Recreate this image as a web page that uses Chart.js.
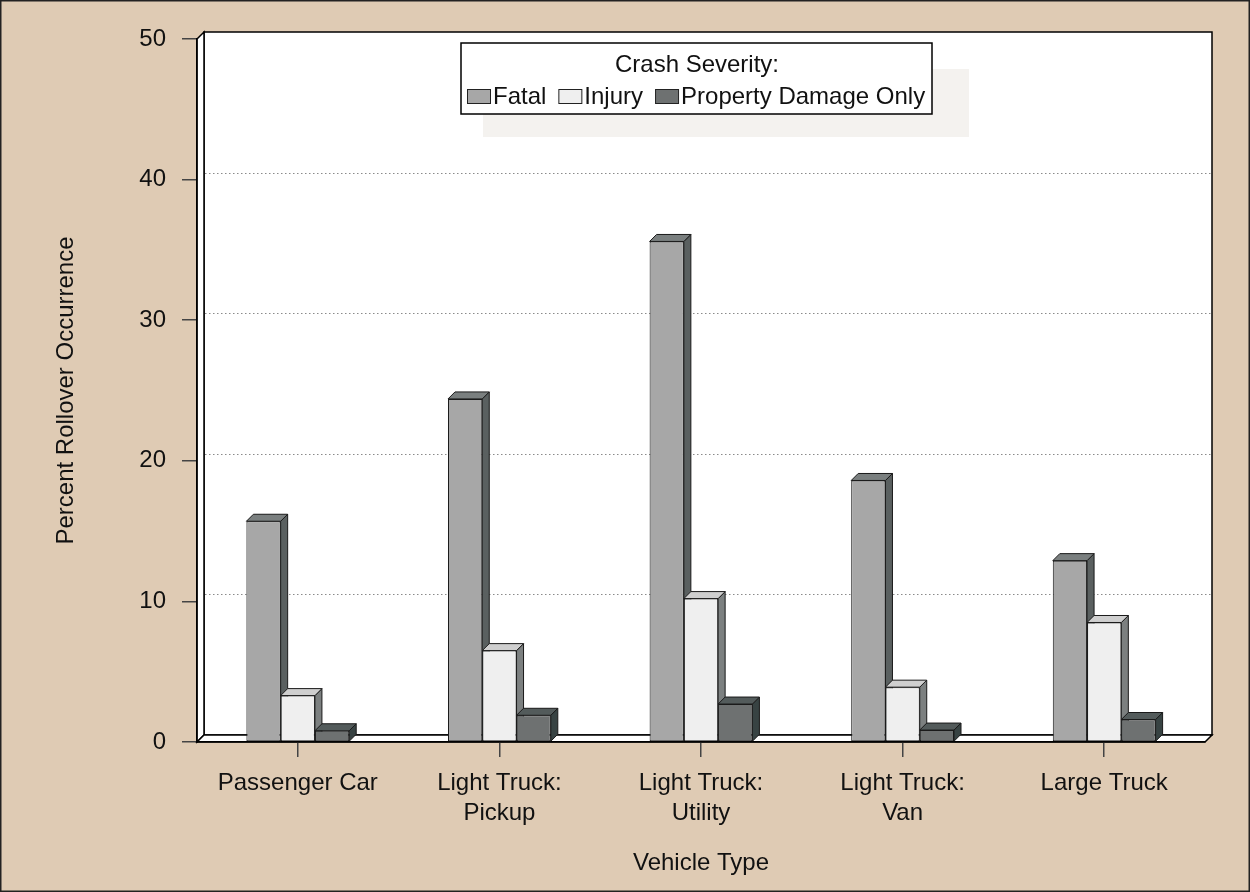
<!DOCTYPE html>
<html>
<head>
<meta charset="utf-8">
<script src="https://cdn.jsdelivr.net/npm/chart.js@4.4.1/dist/chart.umd.min.js"></script>
<style>
	html, body { margin: 0; padding: 0; background: #dfcbb4; }
	canvas { display: block; }
</style>
</head>
<body>
<canvas id="chart" width="1250" height="892"></canvas>
<script>

const categories = ['Passenger Car', ['Light Truck:', 'Pickup'], ['Light Truck:', 'Utility'], ['Light Truck:', 'Van'], 'Large Truck'];
const fatal = [15.7, 24.4, 35.6, 18.6, 12.9];
const injury = [3.3, 6.5, 10.2, 3.9, 8.5];
const propertyDamage = [0.8, 1.9, 2.7, 0.85, 1.6];
const yTicks = [0, 10, 20, 30, 40, 50];

const DEPTH = 7;
const FONT = 'Liberation Sans, Arial, sans-serif';

// front, side, top colours for each series
const shades = [
	{ front: '#a7a7a7', side: '#5a6060', top: '#7a7f7f' },
	{ front: '#efefef', side: '#7c8080', top: '#cfcfcf' },
	{ front: '#6e7171', side: '#384343', top: '#535b5b' }
];

function poly(ctx, pts, fill) {
	ctx.beginPath();
	ctx.moveTo(pts[0][0], pts[0][1]);
	for (let i = 1; i < pts.length; i++) {
		ctx.lineTo(pts[i][0], pts[i][1]);
	}
	ctx.closePath();
	ctx.fillStyle = fill;
	ctx.fill();
	ctx.stroke();
}

const boxPlugin = {
	id: 'box3d',
	beforeDraw(chart) {
		const ctx = chart.ctx;
		const a = chart.chartArea;
		const d = DEPTH;
		ctx.save();
		ctx.fillStyle = '#dfcbb4';
		ctx.fillRect(0, 0, chart.width, chart.height);
		ctx.strokeStyle = '#222';
		ctx.lineWidth = 1.5;
		ctx.strokeRect(0.75, 0.75, chart.width - 1.5, chart.height - 1.5);

		ctx.strokeStyle = '#000';
		ctx.lineWidth = 1.5;
		// back wall
		poly(ctx, [[a.left + d, a.top - d], [a.right + d, a.top - d], [a.right + d, a.bottom - d], [a.left + d, a.bottom - d]], '#ffffff');
		// left wall
		poly(ctx, [[a.left, a.top], [a.left + d, a.top - d], [a.left + d, a.bottom - d], [a.left, a.bottom]], '#ffffff');
		// floor
		poly(ctx, [[a.left, a.bottom], [a.left + d, a.bottom - d], [a.right + d, a.bottom - d], [a.right, a.bottom]], '#ffffff');

		// dotted grid on back wall
		const y = chart.scales.y;
		ctx.strokeStyle = '#8a8a8a';
		ctx.lineWidth = 1;
		ctx.setLineDash([1.5, 2.5]);
		yTicks.forEach((v) => {
			if (v === 0 || v === 50) return;
			const py = Math.round(y.getPixelForValue(v) - d) + 0.5;
			ctx.beginPath();
			ctx.moveTo(a.left + d + 1, py);
			ctx.lineTo(a.right + d, py);
			ctx.stroke();
		});
		ctx.restore();
	},
	beforeDatasetsDraw(chart) {
		const ctx = chart.ctx;
		const d = DEPTH;
		ctx.save();
		ctx.strokeStyle = '#1a1a1a';
		ctx.lineWidth = 1;
		ctx.lineJoin = 'round';
		for (let i = 0; i < categories.length; i++) {
			chart.data.datasets.forEach((ds, k) => {
				const bar = chart.getDatasetMeta(k).data[i];
				const l = bar.x - bar.width / 2;
				const r = bar.x + bar.width / 2;
				const t = bar.y;
				const b = bar.base;
				poly(ctx, [[r, t], [r + d, t - d], [r + d, b - d], [r, b]], shades[k].side);
				poly(ctx, [[l, t], [l + d, t - d], [r + d, t - d], [r, t]], shades[k].top);
			});
		}
		ctx.restore();
	},
	afterDraw(chart) {
		const ctx = chart.ctx;
		ctx.save();
		// legend shadow and box
		ctx.fillStyle = '#f4f2ef';
		ctx.fillRect(483, 69, 486, 68);
		ctx.fillStyle = '#ffffff';
		ctx.strokeStyle = '#000';
		ctx.lineWidth = 1.5;
		ctx.fillRect(461, 43, 471, 71);
		ctx.strokeRect(461, 43, 471, 71);

		ctx.font = '24px ' + FONT;
		ctx.fillStyle = '#111';
		ctx.textBaseline = 'middle';
		ctx.textAlign = 'center';
		ctx.fillText('Crash Severity:', 697, 65);

		ctx.textAlign = 'left';
		let x = 467;
		const cy = 96;
		chart.data.datasets.forEach((ds, k) => {
			ctx.fillStyle = shades[k].front;
			ctx.strokeStyle = '#222';
			ctx.lineWidth = 1;
			ctx.fillRect(x + 0.5, cy - 6.5, 23, 14);
			ctx.strokeRect(x + 0.5, cy - 6.5, 23, 14);
			x += 26;
			ctx.fillStyle = '#111';
			ctx.fillText(ds.label, x, cy + 1);
			x += ctx.measureText(ds.label).width + 12;
		});
		ctx.restore();
	}
};

function makeDataset(label, values, k) {
	return {
		label: label,
		data: values,
		backgroundColor: shades[k].front,
		borderColor: '#1a1a1a',
		borderWidth: 1,
		borderSkipped: false,
		categoryPercentage: 0.51,
		barPercentage: 1.0
	};
}

new Chart(document.getElementById('chart'), {
	type: 'bar',
	data: {
		labels: categories,
		datasets: [
			makeDataset('Fatal', fatal, 0),
			makeDataset('Injury', injury, 1),
			makeDataset('Property Damage Only', propertyDamage, 2)
		]
	},
	plugins: [boxPlugin],
	options: {
		responsive: false,
		animation: {
			duration: 0
		},
		layout: {
			padding: { left: 48, right: 45, top: 39, bottom: 10 }
		},
		scales: {
			x: {
				afterFit: function(scale) {
					scale.height = 140;
				},
				grid: {
					offset: false,
					drawOnChartArea: false,
					tickLength: 15,
					tickColor: '#444',
					lineWidth: 1.5
				},
				border: {
					color: '#000',
					width: 1.5
				},
				ticks: {
					color: '#111',
					padding: 11,
					maxRotation: 0,
					font: { family: FONT, size: 24, lineHeight: 1.25 }
				},
				title: {
					display: true,
					text: 'Vehicle Type',
					color: '#111',
					font: { family: FONT, size: 24 }
				}
			},
			y: {
				min: 0,
				max: 50,
				afterFit: function(scale) {
					scale.width = 149;
				},
				grid: {
					drawOnChartArea: false,
					tickLength: 15,
					tickColor: '#444',
					lineWidth: 1.5
				},
				border: {
					color: '#000',
					width: 1.5
				},
				ticks: {
					stepSize: 10,
					color: '#111',
					padding: 16,
					font: { family: FONT, size: 24 }
				},
				title: {
					display: true,
					text: 'Percent Rollover Occurrence',
					color: '#111',
					font: { family: FONT, size: 24 }
				}
			}
		},
		plugins: {
			legend: {
				display: false
			},
			tooltip: {
				enabled: false
			}
		}
	}
});

</script>
</body>
</html>
